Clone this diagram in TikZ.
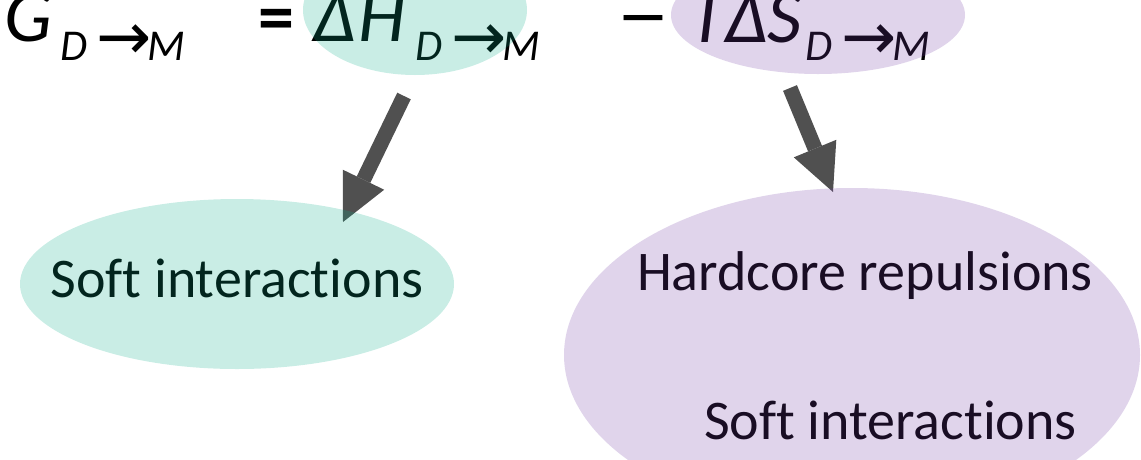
\documentclass[tikz,border=0pt]{standalone}
\usepackage{fontspec}
\setmainfont{Carlito}[Ligatures=NoCommon]
\newfontfamily\arrfont{DejaVu Sans}
\usetikzlibrary{arrows.meta,shapes.geometric}
\definecolor{tealc}{RGB}{10,173,137}
\definecolor{purpc}{RGB}{114,60,164}
\definecolor{arrg}{RGB}{80,80,80}
\newcommand{\subarr}{D\kern9pt\raisebox{1pt}{\arrfont\upshape\fontsize{66}{68}\selectfont →}\kern-4pt M}
\tikzset{
  txt/.style={inner sep=0pt, outer sep=0pt, anchor=base west, font=\fontsize{56}{60}\selectfont},
  mathbig/.style={inner sep=0pt, outer sep=0pt, anchor=base west, font=\fontsize{76}{80}\selectfont\itshape},
  mathsub/.style={inner sep=0pt, outer sep=0pt, anchor=base west, font=\fontsize{44}{48}\selectfont\itshape},
  opsym/.style={inner sep=0pt, outer sep=0pt, anchor=base west, font=\fontsize{72}{76}\selectfont\bfseries},
  blob/.style={ellipse, inner sep=0pt, fill opacity=0.22, draw=none},
  tealblob/.style={blob, fill=tealc},
  purpblob/.style={blob, fill=purpc},
  bigarrow/.style={draw=arrg, fill=arrg, line width=15pt, -{Triangle[length=47pt,width=46pt,line width=0pt]}},
}
\begin{document}
\begin{tikzpicture}[x=1pt,y=-1pt]
\useasboundingbox (0,0) rectangle (1141,459);
\clip (0,0) rectangle (1141,459);
% equation
\node[mathbig] (g) at (5,41) {G};
\node[mathsub] (gs) at (60,60) {\subarr};
\node[opsym] (eq) at (258,41) {=};
\node[mathbig] (dh) at (313,41) {Δ\kern3pt H};
\node[mathsub] (dhs) at (415,60) {\subarr};
\node[opsym, font=\fontsize{62}{64}\selectfont\arrfont] (mi) at (617,37) {−};
\node[mathbig] (tds) at (688,42) {TΔS};
\node[mathsub] (tdss) at (805,60) {\subarr};
% labels
\node[txt, anchor=base] (soft1) at (237,297) {Soft interactions};
\node[txt] (hard) at (637,290) {Hardcore repulsions};
\node[txt] (soft2) at (704,439) {Soft interactions};
% arrows
\coordinate (a1s) at (404,96);
\coordinate (a1e) at (343,222);
\coordinate (a2s) at (790,88);
\coordinate (a2e) at (833,192);
\draw[bigarrow] (a1s) -- (a1e);
\draw[bigarrow] (a2s) -- (a2e);
% ellipses (translucent overlays)
\node[tealblob, minimum width=224pt, minimum height=130pt] (hblob) at (415,10) {};
\node[purpblob, minimum width=294pt, minimum height=118pt] (sblob) at (818,15) {};
\node[tealblob, minimum width=434pt, minimum height=170pt] (lblob) at (237,284) {};
\node[purpblob, minimum width=576pt, minimum height=334pt] (rblob) at (852,355) {};
\end{tikzpicture}
\end{document}
